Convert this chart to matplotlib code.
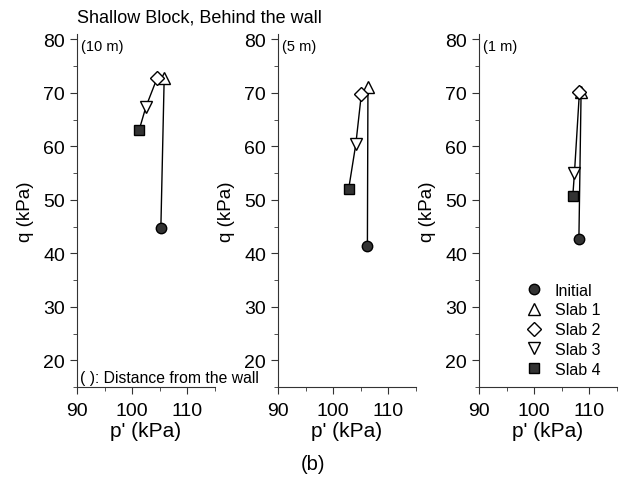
import matplotlib.pyplot as plt
from matplotlib.ticker import MultipleLocator

plt.rcParams['font.family'] = ['Liberation Sans', 'DejaVu Sans']

# stress paths, order: Initial, Slab 1, Slab 2, Slab 3, Slab 4
labels = ["Initial", "Slab 1", "Slab 2", "Slab 3", "Slab 4"]
dist = ["(10 m)", "(5 m)", "(1 m)"]
p_10m = [105.2, 105.8, 104.5, 102.5, 101.25]
q_10m = [44.75, 72.7, 72.7, 67.4, 63.0]
p_5m = [106.2, 106.3, 105.1, 104.1, 102.8]
q_5m = [41.4, 71.1, 69.7, 60.4, 52.0]
p_1m = [108.1, 108.5, 108.2, 107.3, 107.0]
q_1m = [42.7, 70.2, 70.2, 55.1, 50.8]

markers = ['o', '^', 'D', 'v', 's']
faces = ['#333333', 'white', 'white', 'white', '#333333']
msizes = [7.5, 8.5, 7.5, 8.5, 6.5]

fig = plt.figure(figsize=(6.27, 4.81), dpi=100)
lefts = [0.1228, 0.4434, 0.764]
data = [(p_10m, q_10m), (p_5m, q_5m), (p_1m, q_1m)]

for i, (p, q) in enumerate(data):
    ax = fig.add_axes([lefts[i], 0.1933, 0.22, 0.734])
    ax.plot(p, q, color='black', lw=1, zorder=2)
    for j in range(5):
        ax.plot(p[j], q[j], marker=markers[j], ms=msizes[j], mfc=faces[j],
                mec='black', mew=1, ls='none', label=labels[j], zorder=3)
    ax.set_xlim(90, 115)
    ax.set_ylim(15, 81)
    ax.xaxis.set_major_locator(MultipleLocator(10))
    ax.xaxis.set_minor_locator(MultipleLocator(5))
    ax.yaxis.set_minor_locator(MultipleLocator(5))
    ax.set_yticks([20, 30, 40, 50, 60, 70, 80])
    ax.spines['top'].set_visible(False)
    ax.spines['right'].set_visible(False)
    for s in ['left', 'bottom']:
        ax.spines[s].set_color('#333333')
    ax.tick_params(which='major', direction='out', length=5, labelsize=14, color='#333333')
    ax.tick_params(axis='x', which='major', pad=6)
    ax.tick_params(which='minor', direction='out', length=3, color='#333333')
    ax.set_xlabel("p' (kPa)", fontsize=15, labelpad=1)
    ax.set_ylabel("q (kPa)", fontsize=13.5, labelpad=7)
    ax.text(0.03, 0.985, dist[i], transform=ax.transAxes, fontsize=10.5, va='top', ha='left')
    if i == 0:
        ax.text(0.02, 0.015, "( ): Distance from the wall", transform=ax.transAxes,
                fontsize=11.3, va='baseline', ha='left', clip_on=False)
    if i == 2:
        ax.legend(loc='upper left', bbox_to_anchor=(0.34, 0.296), frameon=False, fontsize=11.5,
                  handletextpad=0.8, labelspacing=0.3, handlelength=1.0,
                  borderpad=0, borderaxespad=0)

fig.text(0.1228, 0.962, "Shallow Block, Behind the wall", fontsize=13, ha='left', va='center')
fig.text(0.5, 0.034, "(b)", fontsize=14.5, ha='center', va='center')

fig.savefig("out.png", dpi=100)
